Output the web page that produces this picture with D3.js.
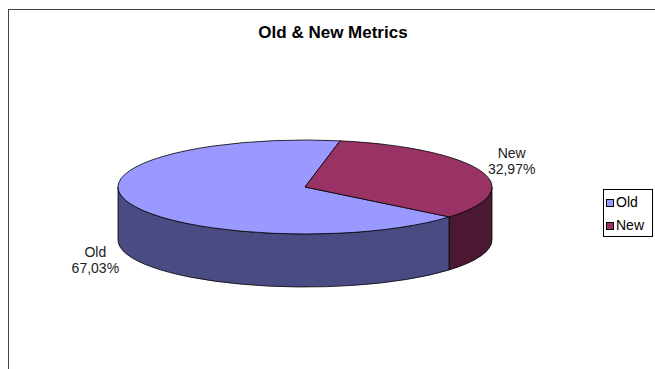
<!DOCTYPE html>
<html><head><meta charset="utf-8">
<script src="https://cdn.jsdelivr.net/npm/d3@7"></script>
<style>html,body{margin:0;padding:0;background:#fff;}svg{display:block;}</style>
</head><body>
<svg id="chart" width="655" height="369"></svg>
<script>
const categories = ["Old", "New"];
const values = [67.03, 32.97];
const labels = ["67,03%", "32,97%"];
const topColors = ["#9999FF", "#993366"];
const sideColors = ["#4B4B83", "#4A1830"];
const title = "Old & New Metrics";

const svg = d3.select("#chart");
const FONT = "Liberation Sans, Arial, sans-serif";

// frame
svg.append("rect").attr("x", 8.5).attr("y", 9.5).attr("width", 700).attr("height", 400)
  .attr("fill", "#fff").attr("stroke", "#444").attr("stroke-width", 1);

svg.append("text").attr("x", 333).attr("y", 38).attr("text-anchor", "middle")
  .attr("font-family", FONT).attr("font-weight", "bold")
  .attr("font-size", 17).attr("fill", "#000").text(title);

const cx = 305, cy = 187, rx = 187, ry = 47, depth = 53;
const rot = 129.5 * Math.PI / 180;
const pie = d3.pie().sort(null).startAngle(rot).endAngle(rot + 2 * Math.PI);
const arcs = pie(values);

const px = t => cx + rx * Math.sin(t);
const py = (t, dz = 0) => cy - ry * Math.cos(t) + dz;

function topPath(a) {
  const large = (a.endAngle - a.startAngle) > Math.PI ? 1 : 0;
  return `M${cx},${cy}L${px(a.startAngle)},${py(a.startAngle)}` +
    `A${rx},${ry} 0 ${large} 1 ${px(a.endAngle)},${py(a.endAngle)}Z`;
}
function sidePath(t0, t1) {
  const large = (t1 - t0) > Math.PI ? 1 : 0;
  return `M${px(t0)},${py(t0)}A${rx},${ry} 0 ${large} 1 ${px(t1)},${py(t1)}` +
    `L${px(t1)},${py(t1, depth)}A${rx},${ry} 0 ${large} 0 ${px(t0)},${py(t0, depth)}Z`;
}
function frontParts(a) {
  const parts = [];
  for (let k = -1; k <= 2; k++) {
    const lo = Math.PI / 2 + k * 2 * Math.PI, hi = 3 * Math.PI / 2 + k * 2 * Math.PI;
    const s = Math.max(a.startAngle, lo), e = Math.min(a.endAngle, hi);
    if (e > s + 1e-6) parts.push([s, e]);
  }
  return parts;
}

const g = svg.append("g");
arcs.forEach((a, i) => {
  frontParts(a).forEach(([s, e]) => {
    g.append("path").attr("d", sidePath(s, e)).attr("fill", sideColors[i])
      .attr("stroke", "#000").attr("stroke-width", 0.8).attr("stroke-linejoin", "round");
  });
});
arcs.forEach((a, i) => {
  g.append("path").attr("d", topPath(a)).attr("fill", topColors[i])
    .attr("stroke", "#000").attr("stroke-width", 0.8).attr("stroke-linejoin", "round");
});

// data labels
arcs.forEach((a, i) => {
  const m = (a.startAngle + a.endAngle) / 2;
  const front = Math.cos(m) < 0;
  const right = Math.sin(m) > 0;
  const ex = px(m) + (right ? 7 : -10);
  const ly = cy - ry * 1.6 * Math.cos(m) + (front ? depth * 0.9 : 0);
  const t = svg.append("text").attr("text-anchor", "middle")
    .attr("font-family", FONT).attr("font-size", 14).attr("fill", "#222");
  const s1 = t.append("tspan").attr("y", ly - 3).text(categories[i]);
  const s2 = t.append("tspan").attr("y", ly + 13).text(labels[i]);
  const w = Math.max(s1.node().getComputedTextLength(), s2.node().getComputedTextLength());
  const lx = right ? ex + w / 2 : ex - w / 2;
  s1.attr("x", lx); s2.attr("x", lx);
});

// legend
const lg = svg.append("g");
lg.append("rect").attr("x", 603.5).attr("y", 189.5).attr("width", 49).attr("height", 47)
  .attr("fill", "#fff").attr("stroke", "#000").attr("stroke-width", 1);
categories.forEach((c, i) => {
  const y = 199 + i * 23;
  lg.append("rect").attr("x", 606.5).attr("y", y + 0.5).attr("width", 7).attr("height", 7)
    .attr("fill", topColors[i]).attr("stroke", "#000").attr("stroke-width", 1);
  lg.append("text").attr("x", 616).attr("y", y + 8)
    .attr("font-family", FONT).attr("font-size", 14).attr("fill", "#000").text(c);
});
</script>
</body></html>
